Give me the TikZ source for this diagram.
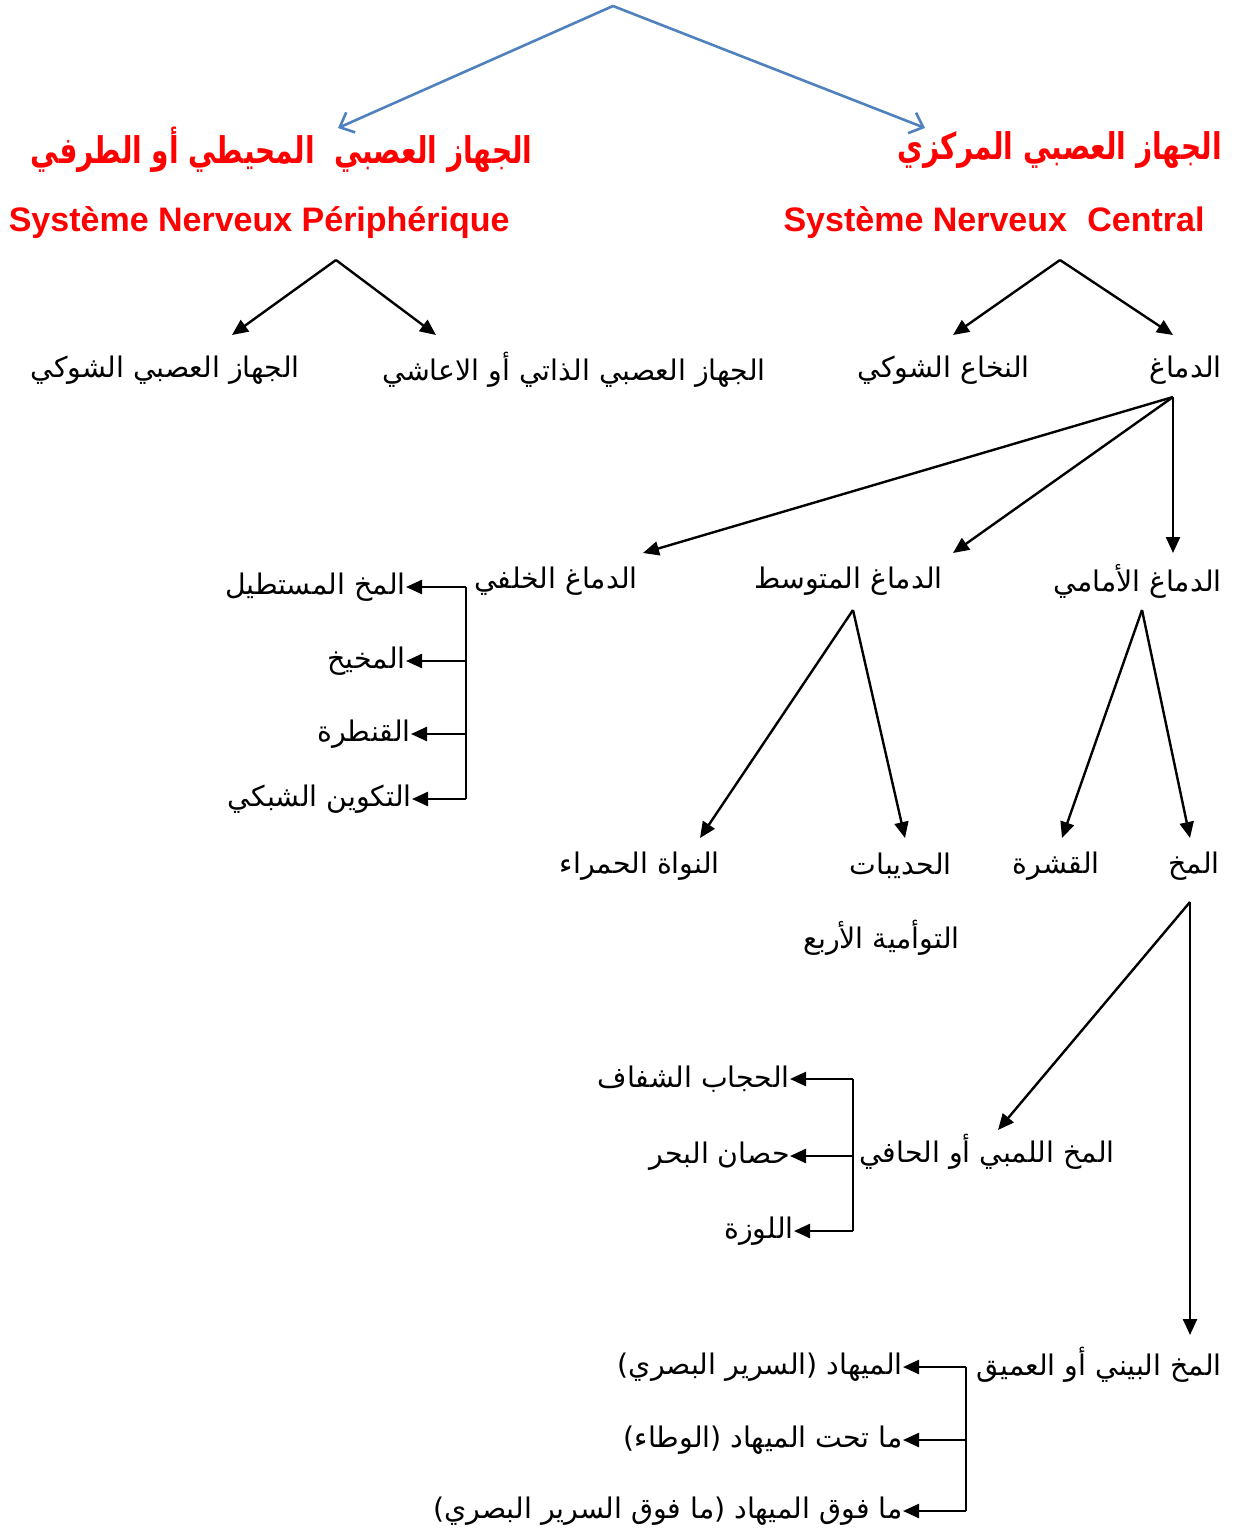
\documentclass[tikz,border=0pt]{standalone}
\usepackage{fontspec}
\setmainfont{Liberation Sans}
\newfontfamily\arabicfont[Script=Arabic]{DejaVu Sans}
\TeXXeTstate=1
\usepackage{tikz}
\usetikzlibrary{arrows.meta,positioning,calc}

\definecolor{bluelink}{RGB}{79,129,189}
\newcommand{\artxt}[1]{\beginR #1\endR}

\tikzset{
  artext/.style={font=\arabicfont\fontsize{14.2}{17}\selectfont, inner sep=0pt, anchor=east},
  artitle/.style={font=\arabicfont\bfseries\fontsize{16}{19}\selectfont, text=red, inner sep=0pt, anchor=east,
    xscale=0.875, yscale=1.15, transform shape},
  frtitle/.style={font=\bfseries\fontsize{17}{20}\selectfont, text=red, inner sep=0pt, anchor=east},
  branch/.style={draw, line width=1.2pt, -{Triangle[length=8pt,width=7pt]}},
  spine/.style={draw, line width=1.1pt},
  toparrow/.style={draw=bluelink, line width=1.3pt, -{Straight Barb[length=6pt,width=11pt]}}
}

\begin{document}
\begin{tikzpicture}[x=0.5pt,y=-0.5pt]
  \useasboundingbox (0,0) rectangle (1234,1531);
  % the two systems, with their French names
  \node[artitle] (cnsar) at (1222,150) {\artxt{الجهاز العصبي المركزي}};
  \node[artitle] (pnsar) at (533,150) {\artxt{الجهاز العصبي\ \ المحيطي أو الطرفي}};
  \node[frtitle] (cnsfr) at (1205,223) {Système Nerveux\hspace{0.6em}Central};
  \node[frtitle] (pnsfr) at (510,223) {Système Nerveux Périphérique};
  \coordinate (top) at (613,6);
  \draw[toparrow] (top) -- ($(pnsar.east)+(-195,-22)$);
  \draw[toparrow] (top) -- ($(cnsar.east)+(-297,-22)$);

  % second level
  \node[artext] (somatic) at (300,370) {\artxt{الجهاز العصبي الشوكي}};
  \node[artext] (autonomic) at (766,370) {\artxt{الجهاز العصبي الذاتي أو الاعاشي}};
  \node[artext] (spinal) at (1030,370) {\artxt{النخاع الشوكي}};
  \node[artext] (brain) at (1222,370) {\artxt{الدماغ}};
  \coordinate (pnsfork) at (336,260);
  \coordinate (cnsfork) at (1060,260);
  \draw[branch] (pnsfork) -- ($(somatic.east)+(-68,-35)$);
  \draw[branch] (pnsfork) -- ($(autonomic.east)+(-330,-35)$);
  \draw[branch] (cnsfork) -- ($(spinal.east)+(-77,-35)$);
  \draw[branch] (cnsfork) -- ($(brain.east)+(-49,-35)$);

  % hind-, mid- and forebrain
  \node[artext] (hind) at (638,581) {\artxt{الدماغ الخلفي}};
  \node[artext] (mid) at (943,581) {\artxt{الدماغ المتوسط}};
  \node[artext] (fore) at (1222,581) {\artxt{الدماغ الأمامي}};
  \coordinate (brainfork) at ($(brain.east)+(-49,27)$);
  \draw[branch] (brainfork) -- ($(hind.east)+(5,-28)$);
  \draw[branch] (brainfork) -- ($(mid.east)+(10,-28)$);
  \draw[branch] (brainfork) -- ($(fore.east)+(-49,-28)$);

  % parts of the hindbrain
  \node[artext] (medulla) at (406,587) {\artxt{المخ المستطيل}};
  \node[artext] (cerebellum) at (406,661) {\artxt{المخيخ}};
  \node[artext] (pons) at (411,734) {\artxt{القنطرة}};
  \node[artext] (reticular) at (412,799) {\artxt{التكوين الشبكي}};
  \coordinate (hindspine) at (466,587);
  \draw[spine] (hindspine) -- (hindspine |- reticular.east);
  \draw[branch] (hindspine |- medulla.east) -- (medulla.east);
  \draw[branch] (hindspine |- cerebellum.east) -- (cerebellum.east);
  \draw[branch] (hindspine |- pons.east) -- (pons.east);
  \draw[branch] (hindspine |- reticular.east) -- (reticular.east);

  % parts of the midbrain and forebrain
  \node[artext] (rednucleus) at (720,866) {\artxt{النواة الحمراء}};
  \node[artext] (colliculi) at (952,866) {\artxt{الحديبات}};
  \node[artext] (colliculi2) at (960,938) {\artxt{التوأمية الأربع}};
  \node[artext] (cortex) at (1100,866) {\artxt{القشرة}};
  \node[artext] (cerebrum) at (1220,866) {\artxt{المخ}};
  \coordinate (midfork) at ($(mid.east)+(-90,29)$);
  \coordinate (forefork) at ($(fore.east)+(-80,29)$);
  \draw[branch] (midfork) -- ($(rednucleus.east)+(-20,-28)$);
  \draw[branch] (midfork) -- ($(colliculi.east)+(-47,-28)$);
  \draw[branch] (forefork) -- ($(cortex.east)+(-38,-28)$);
  \draw[branch] (forefork) -- ($(cerebrum.east)+(-30,-28)$);

  % limbic brain
  \node[artext] (limbic) at (1115,1152) {\artxt{المخ اللمبي أو الحافي}};
  \node[artext] (diencephalon) at (1222,1365) {\artxt{المخ البيني أو العميق}};
  \coordinate (cerebrumfork) at ($(cerebrum.east)+(-30,36)$);
  \draw[branch] (cerebrumfork) -- ($(limbic.east)+(-117,-22)$);
  \draw[branch] (cerebrumfork) -- ($(diencephalon.east)+(-32,-30)$);
  \node[artext] (septum) at (790,1079) {\artxt{الحجاب الشفاف}};
  \node[artext] (hippocampus) at (790,1156) {\artxt{حصان البحر}};
  \node[artext] (amygdala) at (794,1231) {\artxt{اللوزة}};
  \coordinate (limbicspine) at (853,1079);
  \draw[spine] (limbicspine) -- (limbicspine |- amygdala.east);
  \draw[branch] (limbicspine |- septum.east) -- (septum.east);
  \draw[branch] (limbicspine |- hippocampus.east) -- (hippocampus.east);
  \draw[branch] (limbicspine |- amygdala.east) -- (amygdala.east);

  % parts of the diencephalon
  \node[artext] (thalamus) at (903,1367) {\artxt{الميهاد (السرير البصري)}};
  \node[artext] (hypothalamus) at (903,1440) {\artxt{ما تحت الميهاد (الوطاء)}};
  \node[artext] (epithalamus) at (903,1511) {\artxt{ما فوق الميهاد (ما فوق السرير البصري)}};
  \coordinate (dienspine) at (966,1367);
  \draw[spine] (dienspine) -- (dienspine |- epithalamus.east);
  \draw[branch] (dienspine |- thalamus.east) -- (thalamus.east);
  \draw[branch] (dienspine |- hypothalamus.east) -- (hypothalamus.east);
  \draw[branch] (dienspine |- epithalamus.east) -- (epithalamus.east);
\end{tikzpicture}
\end{document}
